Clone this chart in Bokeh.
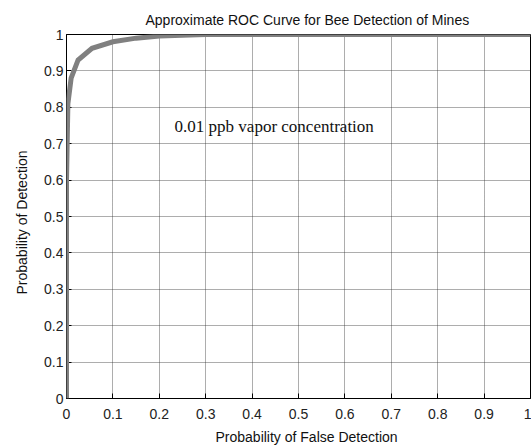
from bokeh.plotting import figure
from bokeh.models import Range1d, FixedTicker, Label, Title, PolyAnnotation
from bokeh.embed import file_html
from bokeh.resources import INLINE

# Data
pfa = [0.0, 0.0, 0.003, 0.01, 0.025, 0.055, 0.1, 0.15, 0.2, 0.3, 1.0]
pd_ = [0.0, 0.6, 0.81, 0.88, 0.93, 0.962, 0.98, 0.99, 0.996, 1.0, 1.0]
ticks = [0, 0.1, 0.2, 0.3, 0.4, 0.5, 0.6, 0.7, 0.8, 0.9, 1]
tick_labels = {0: "0", 0.1: "0.1", 0.2: "0.2", 0.3: "0.3", 0.4: "0.4", 0.5: "0.5",
               0.6: "0.6", 0.7: "0.7", 0.8: "0.8", 0.9: "0.9", 1: "1"}

title_text = "Approximate ROC Curve for Bee Detection of Mines"
xlabel = "Probability of False Detection"
ylabel = "Probability of Detection"
note = "0.01 ppb vapor concentration"

FONT = "Liberation Sans"

p = figure(frame_width=464, frame_height=364, output_backend="svg",
           toolbar_location=None, x_range=Range1d(0, 1), y_range=Range1d(0, 1),
           min_border_left=66, min_border_top=34, min_border_right=1,
           min_border_bottom=36, background_fill_color="white",
           border_fill_color="white")

p.outline_line_color = "black"
p.outline_line_width = 1

for ax in (p.xaxis[0], p.yaxis[0]):
    ax.ticker = FixedTicker(ticks=ticks)
    ax.major_label_overrides = tick_labels
    ax.major_tick_in = 5
    ax.major_tick_out = 0
    ax.minor_tick_in = 0
    ax.minor_tick_out = 0
    ax.axis_line_color = "black"
    ax.major_tick_line_color = "black"
    ax.major_label_text_font = FONT
    ax.major_label_text_font_size = "14px"
    ax.major_label_text_color = "#222222"
    ax.axis_label_standoff = 0
p.xaxis[0].major_label_standoff = 10
p.yaxis[0].major_label_standoff = 3

p.xgrid.ticker = FixedTicker(ticks=ticks)
p.ygrid.ticker = FixedTicker(ticks=ticks)
for g in (p.xgrid[0], p.ygrid[0]):
    g.grid_line_color = "#333333"
    g.grid_line_dash = "1 1"
    g.grid_line_width = 1
    g.grid_line_alpha = 0.8

# the ROC curve, traced forth and back so the (unclipped) outline is just the curve
p.add_layout(PolyAnnotation(xs=pfa + pfa[::-1], ys=pd_ + pd_[::-1],
                            fill_alpha=0, line_color="#808080", line_alpha=1.0,
                            line_width=5, line_join="miter",
                            xs_units="data", ys_units="data", level="overlay"))

p.add_layout(Label(x=0.233, y=0.747, text=note, text_font="Liberation Serif",
                   text_font_size="17px", text_baseline="middle", text_color="#111111"))

p.add_layout(Title(text=title_text, align="left", offset=79, text_font=FONT,
                   text_font_size="14px", text_font_style="normal",
                   text_color="#111111", standoff=14), "above")
p.add_layout(Title(text=xlabel, align="left", offset=149, text_font=FONT,
                   text_font_size="14px", text_font_style="normal",
                   text_color="#111111", standoff=11), "below")
p.add_layout(Title(text=ylabel, align="left", offset=104, text_font=FONT,
                   text_font_size="14px", text_font_style="normal",
                   text_color="#111111", standoff=23), "left")

open("out.html", "w").write(file_html(p, INLINE))
